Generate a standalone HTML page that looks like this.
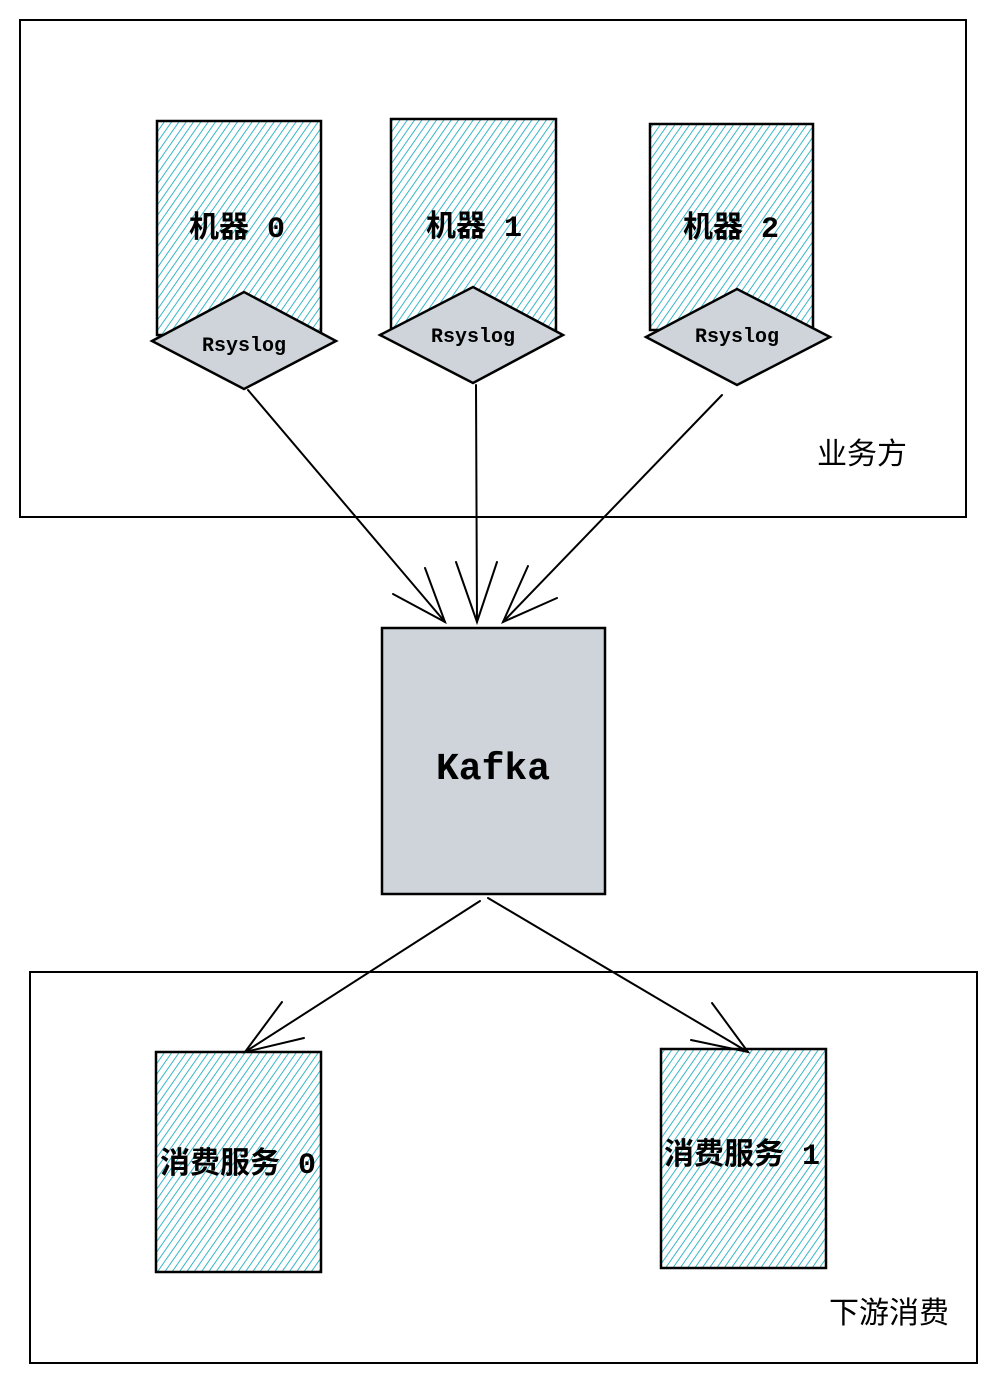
<!DOCTYPE html>
<html><head><meta charset="utf-8"><style>
html,body{margin:0;padding:0;background:#fff;}
svg{display:block;}
.t{font-family:"Liberation Mono","Noto Sans CJK SC",monospace;fill:#000;}
.c{font-family:"Liberation Sans","Noto Sans CJK SC",sans-serif;fill:#000;}
</style></head><body>
<svg width="996" height="1383" viewBox="0 0 996 1383" xmlns="http://www.w3.org/2000/svg">
<defs>
<pattern id="h" patternUnits="userSpaceOnUse" width="6" height="6" patternTransform="rotate(35)">
<rect width="6" height="6" fill="#fff"/>
<line x1="0" y1="0" x2="0" y2="6" stroke="#15aabf" stroke-width="1.7"/>
</pattern>
</defs>
<g fill="none" stroke="#000" stroke-width="2">
<rect x="20" y="20" width="946" height="497"/>
<rect x="30" y="972" width="947" height="391"/>
</g>
<g stroke="#000" stroke-width="2.5">
<rect x="157" y="121" width="164" height="214" fill="url(#h)"/>
<rect x="391" y="119" width="165" height="216" fill="url(#h)"/>
<rect x="650" y="124" width="163" height="206" fill="url(#h)"/>
<rect x="156" y="1052" width="165" height="220" fill="url(#h)"/>
<rect x="661" y="1049" width="165" height="219" fill="url(#h)"/>
<polygon points="152,341 244,292 336,341 244,389" fill="#ced4da"/>
<polygon points="380,335 473,287 563,335 473,383" fill="#ced4da"/>
<polygon points="646,337 737,289 830,337 737,385" fill="#ced4da"/>
<rect x="382" y="628" width="223" height="266" fill="#ced4da"/>
</g>
<g fill="none" stroke="#000" stroke-width="2" stroke-linecap="round">
<line x1="248" y1="390" x2="445" y2="622"/>
<polyline points="393,594 445,622 425,568"/>
<line x1="476" y1="385" x2="477" y2="622"/>
<polyline points="456,562 477,622 497,562"/>
<line x1="722" y1="395" x2="503" y2="622"/>
<polyline points="528,566 503,622 557,598"/>
<line x1="480" y1="901" x2="245" y2="1052"/>
<polyline points="282,1002 245,1052 304,1038"/>
<line x1="488" y1="898" x2="748" y2="1052"/>
<polyline points="691,1040 748,1052 712,1003"/>
</g>
<g class="t" font-size="30" font-weight="bold" text-anchor="middle">
<text x="237" y="237">机器 0</text>
<text x="474" y="236">机器 1</text>
<text x="731" y="237">机器 2</text>
<text x="238" y="1173">消费服务 0</text>
<text x="742" y="1164">消费服务 1</text>
</g>
<g class="t" font-size="20" font-weight="bold" text-anchor="middle">
<text x="244" y="351">Rsyslog</text>
<text x="473" y="342">Rsyslog</text>
<text x="737" y="342">Rsyslog</text>
</g>
<text class="t" x="493" y="779" font-size="38" font-weight="bold" text-anchor="middle">Kafka</text>
<text class="c" x="862" y="464" font-size="30" text-anchor="middle">业务方</text>
<text class="c" x="889" y="1323" font-size="30" text-anchor="middle">下游消费</text>
</svg>
</body></html>
